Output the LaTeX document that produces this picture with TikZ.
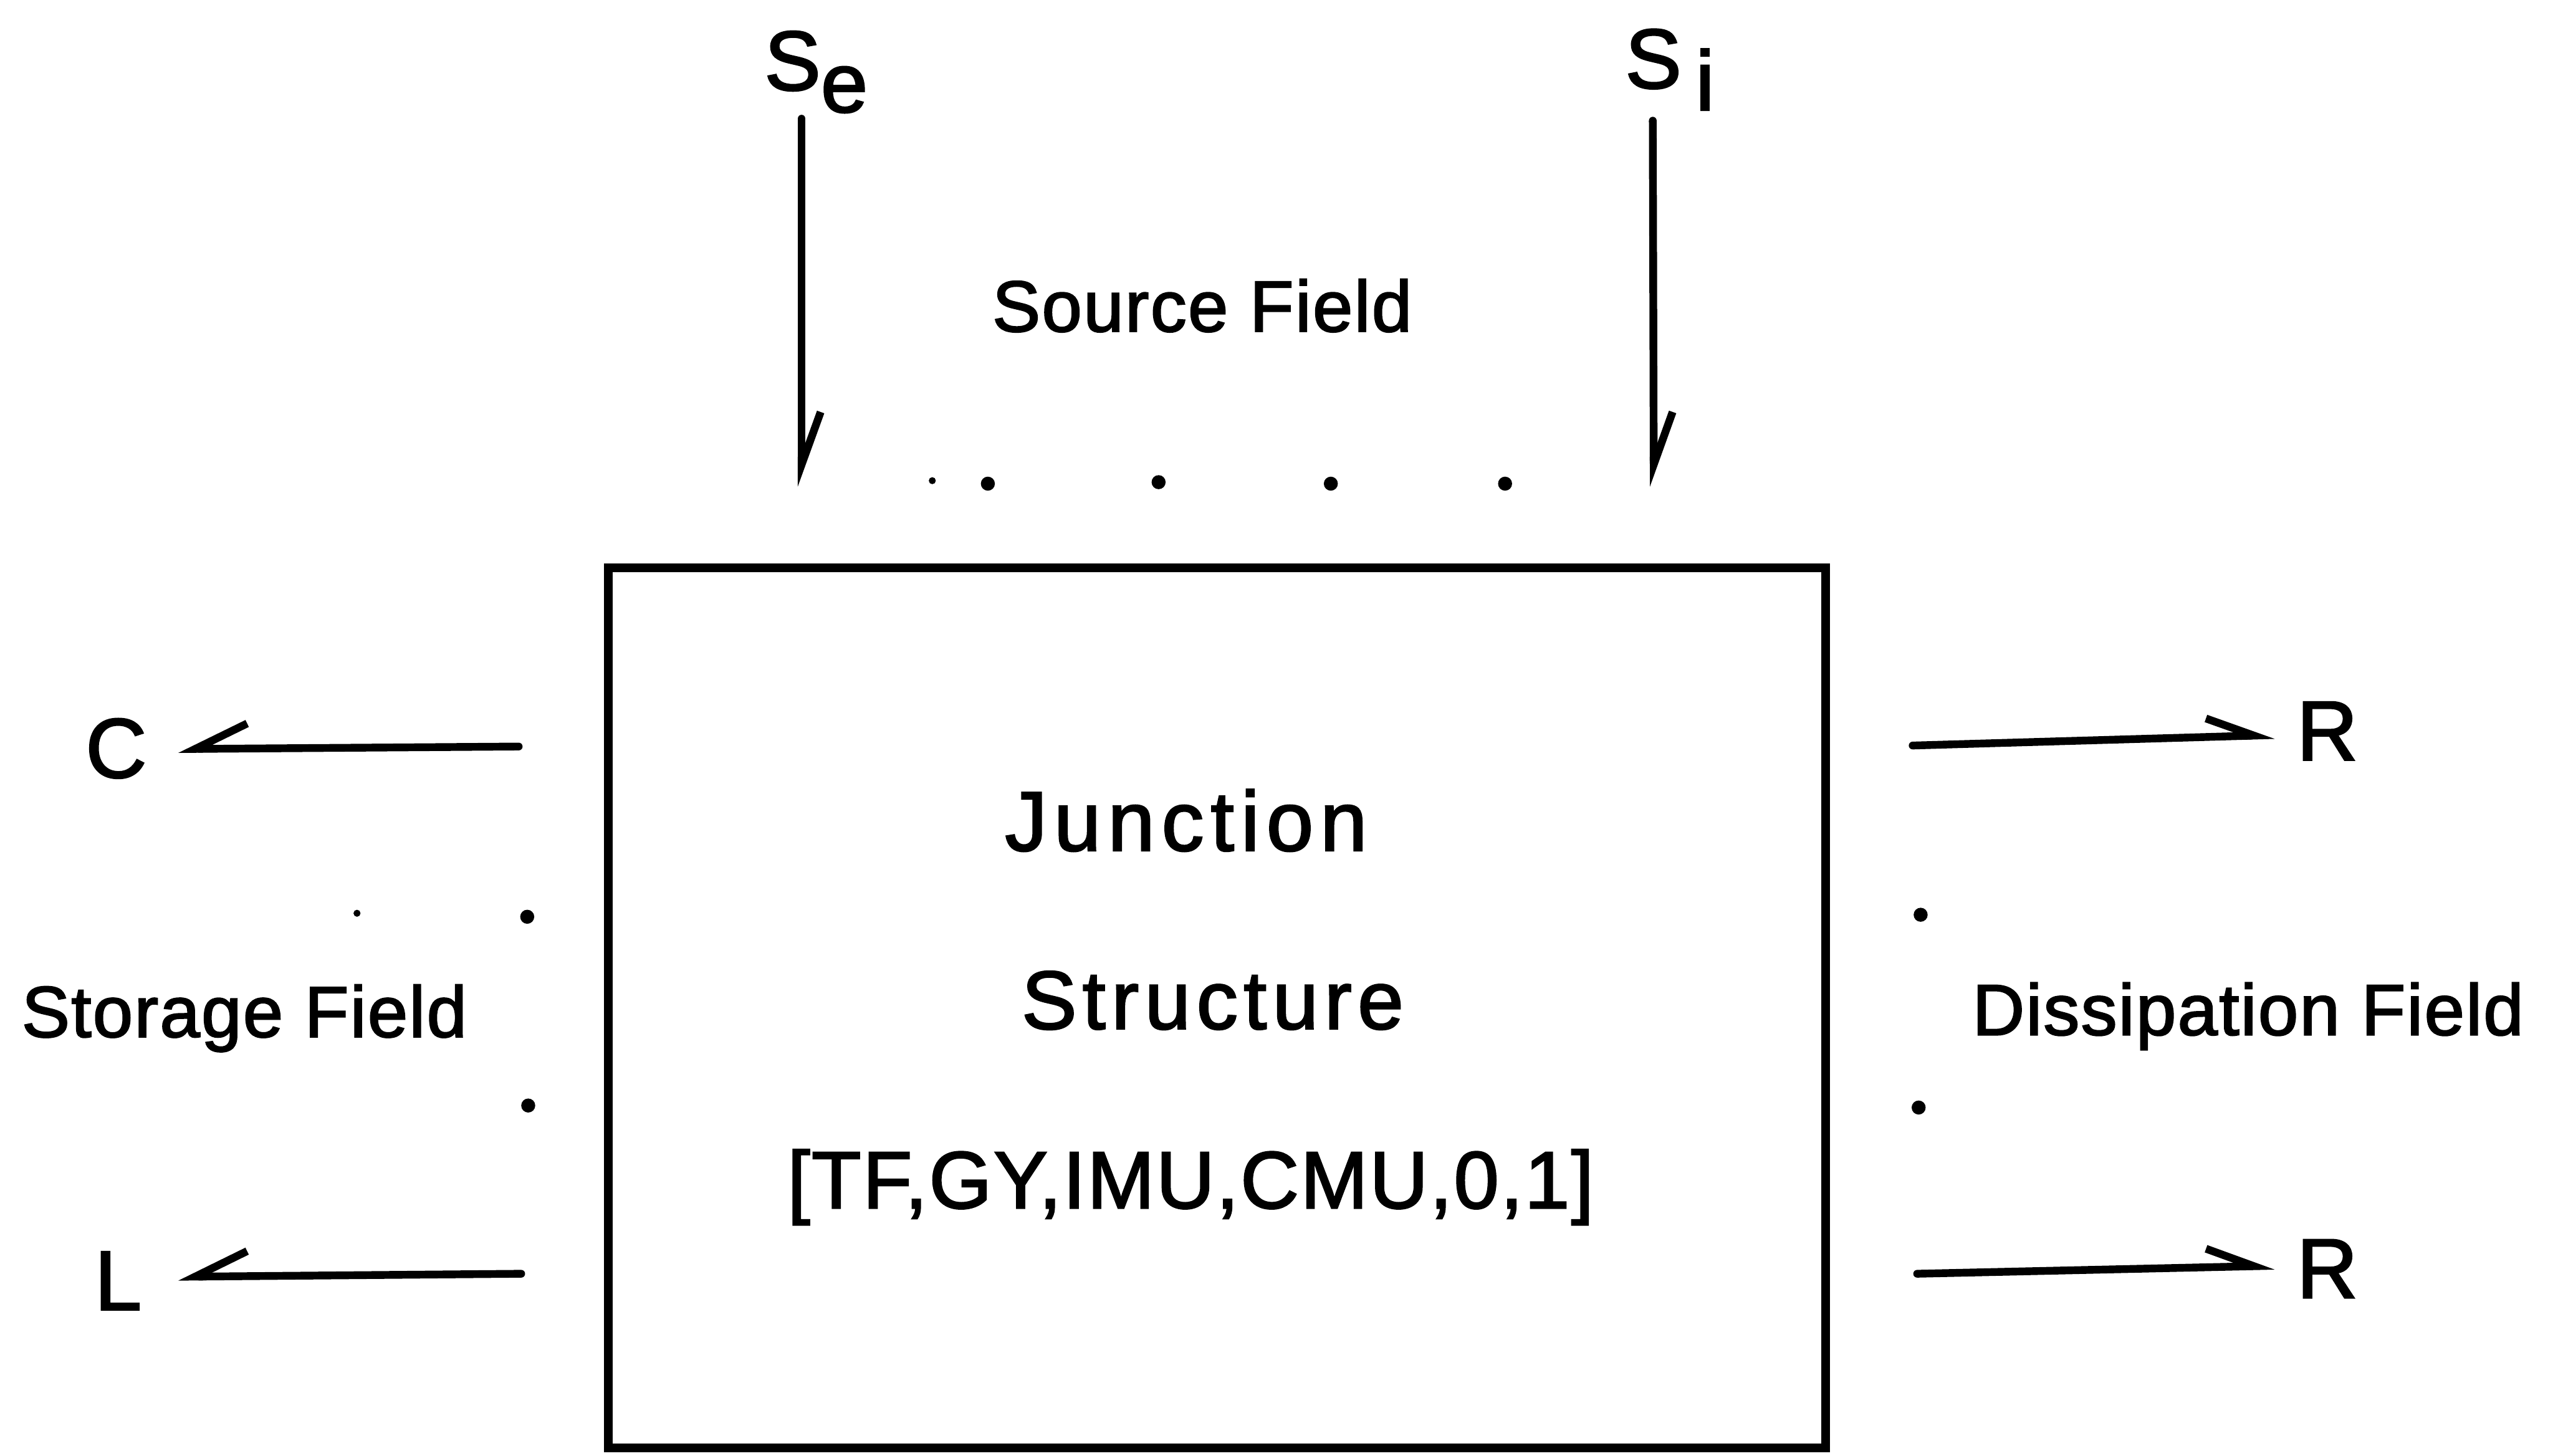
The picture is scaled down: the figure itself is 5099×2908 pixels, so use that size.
\documentclass[tikz,border=0pt]{standalone}
\usepackage{fontspec}
\setmainfont{Liberation Sans}[UprightFeatures={FakeBold=2}]
\usetikzlibrary{arrows.meta}
\begin{document}
\begin{tikzpicture}[x=0.01cm,y=-0.01cm,
  wire/.style={line width=4.4pt, line cap=round, line join=round},
  downarr/.style={wire, -{Straight Barb[left,length=1.05cm,width=0.76cm]}},
  leftarr/.style={wire, -{Straight Barb[right,length=1.04cm,width=1.0cm]}},
  rightarr/.style={wire, -{Straight Barb[left,length=0.95cm,width=0.74cm]}},
  lbl/.style={inner sep=0pt, anchor=base},
  fieldfont/.style={font=\fontsize{41}{45}\selectfont\addfontfeatures{LetterSpace=2,FakeBold=2}},
  bigfont/.style={font=\fontsize{48}{52}\selectfont\addfontfeatures{LetterSpace=8,FakeBold=2}},
  symfont/.style={font=\fontsize{48}{52}\selectfont\addfontfeatures{FakeBold=2}},
  dot/.style={fill=black}]
\useasboundingbox (0,0) rectangle (5099,2908);

% junction box
\node[draw, line width=5pt, minimum width=24.3cm, minimum height=17.57cm, inner sep=0pt] (js) at (2431,2013) {};
\node[lbl, bigfont] (jn) at (2369,1699) {Junction};
\node[lbl, font=\fontsize{47}{52}\selectfont\addfontfeatures{LetterSpace=7,FakeBold=2}] (st) at (2422,2055) {Structure};
\node[lbl, font=\fontsize{46}{52}\selectfont\addfontfeatures{LetterSpace=2,FakeBold=2}] (el) at (2378,2413) {[TF,GY,IMU,CMU,0,1]};

% source field
\node[lbl, symfont] (se) at (1630,180) {S\raisebox{-0.26em}{e}};
\node[lbl, symfont] (si) at (3335,176) {S\raisebox{-0.26em}{\,i}};
\node[lbl, fieldfont] (sf) at (2401,662) {Source Field};
\coordinate (se0) at (1601,237);
\coordinate (se1) at (1601,972);
\coordinate (si0) at (3301,241);
\coordinate (si1) at (3303,972);
\draw[downarr] (se0) -- (se1);
\draw[downarr] (si0) -- (si1);
\fill[dot] (1862,960) circle (0.07cm);
\fill[dot] (1973,966) circle (0.14cm);
\fill[dot] (2314,963) circle (0.14cm);
\fill[dot] (2658,966) circle (0.14cm);
\fill[dot] (3006,966) circle (0.14cm);

% storage field
\node[lbl, symfont] (C) at (232,1553) {C};
\node[lbl, symfont] (L) at (236,2616) {L};
\node[lbl, fieldfont] (stf) at (488,2071) {Storage Field};
\coordinate (c0) at (1036,1491);
\coordinate (c1) at (356,1496);
\coordinate (l0) at (1041,2544);
\coordinate (l1) at (356,2550);
\draw[leftarr] (c0) -- (c1);
\draw[leftarr] (l0) -- (l1);
\fill[dot] (713,1824) circle (0.07cm);
\fill[dot] (1053,1831) circle (0.14cm);
\fill[dot] (1055,2208) circle (0.14cm);

% dissipation field
\node[lbl, symfont] (R1) at (4648,1518) {R};
\node[lbl, symfont] (R2) at (4648,2592) {R};
\node[lbl, fieldfont] (df) at (4490,2067) {Dissipation Field};
\coordinate (r10) at (3820,1489);
\coordinate (r11) at (4543,1468);
\coordinate (r20) at (3829,2544);
\coordinate (r21) at (4543,2528);
\draw[rightarr] (r10) -- (r11);
\draw[rightarr] (r20) -- (r21);
\fill[dot] (3836,1827) circle (0.14cm);
\fill[dot] (3832,2212) circle (0.14cm);
\end{tikzpicture}
\end{document}
